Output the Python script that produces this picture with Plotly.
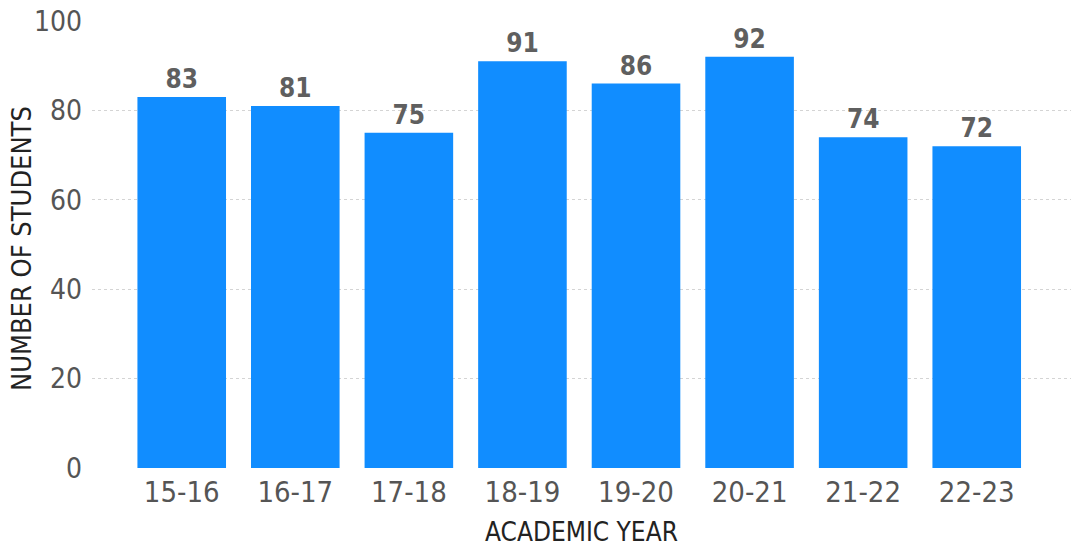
import plotly.graph_objects as go

years = ["15-16", "16-17", "17-18", "18-19", "19-20", "20-21", "21-22", "22-23"]
students = [83, 81, 75, 91, 86, 92, 74, 72]
y_ticks = [0, 20, 40, 60, 80, 100]

FONT = "DejaVu Sans Condensed, DejaVu Sans, sans-serif"

fig = go.Figure(go.Bar(
    x=years, y=students,
    marker=dict(color="#118DFF", line=dict(width=0)),
    text=[str(v) for v in students],
    textposition="outside",
    textfont=dict(family=FONT, size=26, color="#5f5f5f", weight="bold"),
    cliponaxis=False,
))

fig.update_layout(
    width=1071, height=548,
    margin=dict(l=92, r=0, t=21, b=80),
    paper_bgcolor="white", plot_bgcolor="white",
    bargap=0.22,
    showlegend=False,
    font=dict(family=FONT),
    xaxis=dict(
        range=[-0.79, 7.83],
        showgrid=False, zeroline=False, showline=False,
        tickfont=dict(size=29, color="#555555"),
        ticklabelstandoff=4,
        title=dict(text="ACADEMIC YEAR", font=dict(size=26, color="#222222"), standoff=14),
    ),
    yaxis=dict(
        range=[0, 100],
        tickvals=y_ticks,
        showgrid=True, gridcolor="#d4d4d4", griddash="dot", gridwidth=1,
        zeroline=False, showline=False,
        tickfont=dict(size=28, color="#555555"),
        ticklen=0, ticks="",
        ticklabelstandoff=9,
    ),
    annotations=[dict(
        text="NUMBER OF STUDENTS", textangle=-90,
        xref="paper", yref="paper", x=-0.0715, y=0.49,
        xanchor="center", yanchor="middle", showarrow=False,
        font=dict(family=FONT, size=27, color="#222222"),
    )],
)

fig.write_html("out.html")
